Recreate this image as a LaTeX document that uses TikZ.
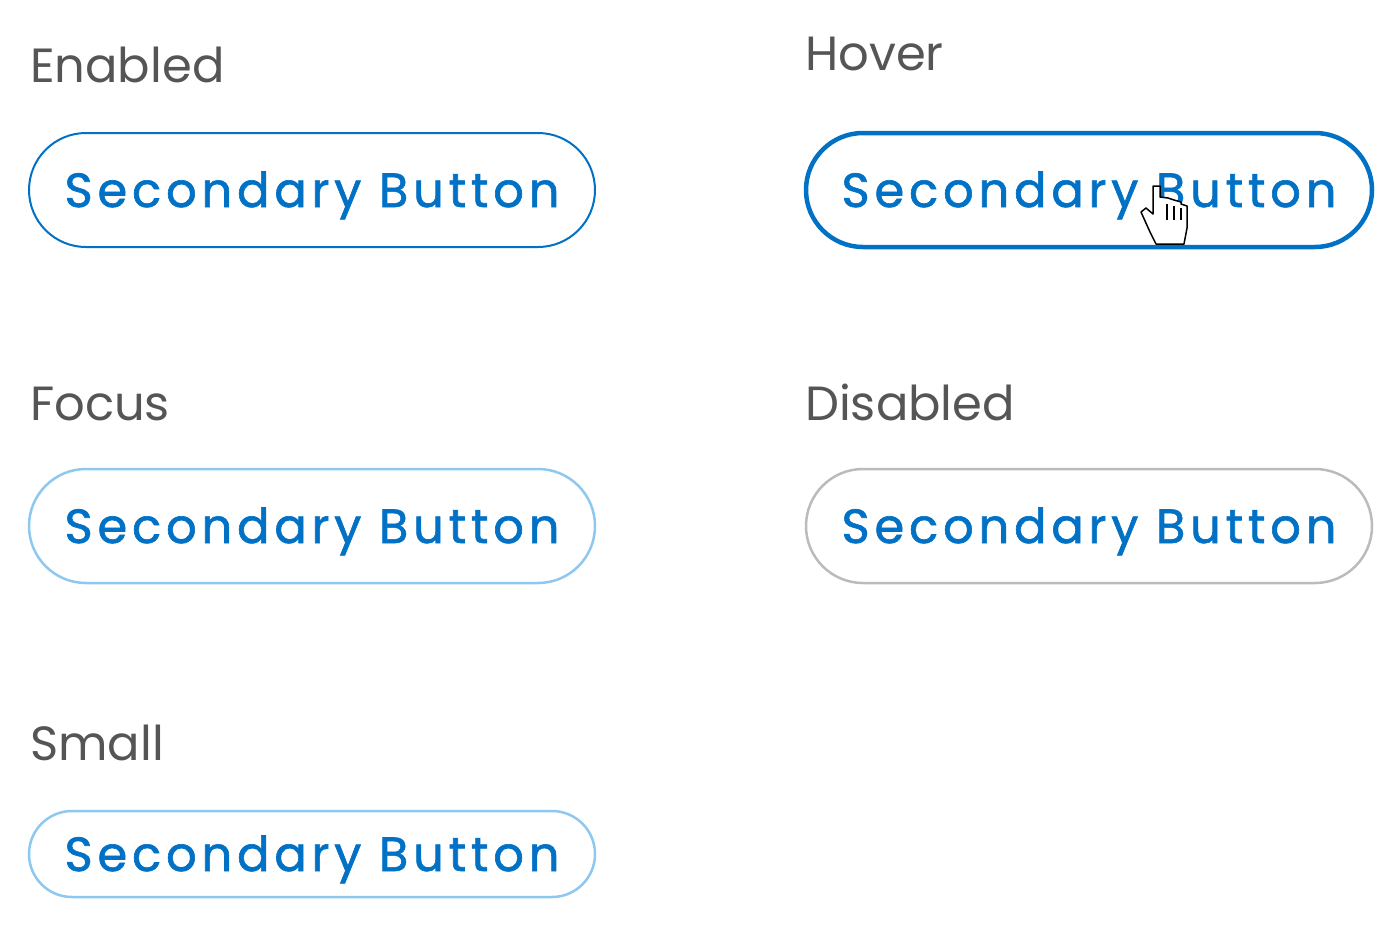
\documentclass[tikz,border=0pt]{standalone}
\usepackage{fontspec}
\setmainfont{Poppins}
\newfontfamily\btnfont[LetterSpace=10,FakeBold=1.3]{Poppins}
\definecolor{btnblue}{HTML}{0071C5}
\definecolor{focusblue}{HTML}{8EC8F0}
\definecolor{disgray}{HTML}{BBBBBB}
\definecolor{labelgray}{HTML}{555555}
\tikzset{
  statelabel/.style={anchor=base west,inner sep=0pt,text=labelgray,font=\fontsize{48}{48}\selectfont},
  btn/.style={draw=btnblue,line width=2pt,rounded corners=57pt,minimum width=566pt,minimum height=114pt,inner sep=0pt,text height=34pt,text depth=0pt,text=btnblue,font=\btnfont\fontsize{48}{48}\selectfont},
}
\begin{document}
\begin{tikzpicture}[x=1pt,y=-1pt]
  \useasboundingbox (0,0) rectangle (1398,930);

  \node[statelabel] (lenabled) at (30,82) {Enabled};
  \node[statelabel] (lhover) at (805,70) {Hover};
  \node[statelabel] (lfocus) at (30,420) {Focus};
  \node[statelabel] (ldisabled) at (805,420) {Disabled};
  \node[statelabel] (lsmall) at (30,760) {Small};

  \node[btn] (benabled) at (312,190) {Secondary Button};
  \node[btn,line width=4.5pt] (bhover) at (1089,190) {Secondary Button};
  \node[btn,draw=focusblue,line width=2.5pt] (bfocus) at (312,526) {Secondary Button};
  \node[btn,draw=disgray,line width=2.5pt] (bdisabled) at (1089,526) {Secondary Button};
  \node[btn,draw=focusblue,line width=2.5pt,minimum height=86pt,rounded corners=43pt] (bsmall) at (312,854) {Secondary Button};

  % cursor
  \draw[fill=white,line width=1.5pt,line join=round]
    (1153,186) -- (1153,214) -- (1146,208) -- (1141,212) -- (1150,232) -- (1156,244)
    -- (1184,244) -- (1187,228) -- (1187,206) -- (1181,204) -- (1181,202) -- (1174,200)
    -- (1168,198) -- (1160,197) -- (1160,186) -- cycle;
  \draw[line width=1.2pt] (1167,204) -- (1167,220) (1174,206) -- (1174,220) (1181,208) -- (1181,220);
\end{tikzpicture}
\end{document}
